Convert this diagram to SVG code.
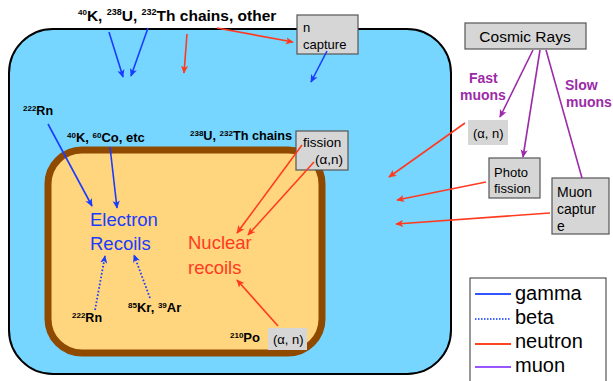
<svg xmlns="http://www.w3.org/2000/svg" width="613" height="381" viewBox="0 0 613 381">
<style>
text{font-family:"Liberation Sans",Arial,sans-serif;fill:#000}
.b{font-weight:bold}
.sup{font-size:8px}
.box{fill:#d6d6d6;stroke:#555;stroke-width:1.2}
.boxn{fill:#d6d6d6;stroke:none}
.g{stroke:#1a3cff;stroke-width:1.6;fill:none}
.bt{stroke:#1a3cff;stroke-width:1.8;fill:none;stroke-dasharray:1.6 2}
.n{stroke:#ff3b1f;stroke-width:1.6;fill:none}
.m{stroke:#9c2aa8;stroke-width:1.6;fill:none}
.pm{fill:#9c2aa8;font-weight:bold;font-size:14px}
.t13{font-size:13px}
.lg{font-size:20px}
</style>
<defs>
<marker id="ab" viewBox="0 0 10 10" refX="9" refY="5" markerWidth="8" markerHeight="8" markerUnits="userSpaceOnUse" orient="auto"><path d="M0,0.5 L10,5 L0,9.5 L2.5,5 Z" fill="#1a3cff"/></marker>
<marker id="ar" viewBox="0 0 10 10" refX="9" refY="5" markerWidth="8" markerHeight="8" markerUnits="userSpaceOnUse" orient="auto"><path d="M0,0.5 L10,5 L0,9.5 L2.5,5 Z" fill="#ff3b1f"/></marker>
<marker id="am" viewBox="0 0 10 10" refX="9" refY="5" markerWidth="8" markerHeight="8" markerUnits="userSpaceOnUse" orient="auto"><path d="M0,0.5 L10,5 L0,9.5 L2.5,5 Z" fill="#9c2aa8"/></marker>
</defs>

<g id="outer"><rect x="9" y="29" width="442" height="345" rx="44" ry="44" fill="#76d6ff" stroke="#000" stroke-width="2"/></g>
<g id="inner"><rect x="48" y="150" width="274" height="203" rx="34" ry="34" fill="#ffd57e" stroke="#8f4a00" stroke-width="7"/></g>

<g id="title"><text x="78" y="21" class="b" font-size="15.5"><tspan class="sup" font-size="9" dy="-6">40</tspan><tspan dy="6">K, </tspan><tspan font-size="9" dy="-6">238</tspan><tspan dy="6">U, </tspan><tspan font-size="9" dy="-6">232</tspan><tspan dy="6">Th chains, other</tspan></text></g>

<g id="ncapture"><rect class="box" x="297" y="15" width="61" height="39"/><text class="t13" x="303" y="32">n</text><text class="t13" x="303" y="49">capture</text></g>

<g id="cosmic"><rect class="box" x="465" y="23" width="121" height="26"/><text x="525" y="42" font-size="15.5" text-anchor="middle">Cosmic Rays</text></g>
<g id="fastmuons"><text class="pm" x="469" y="83">Fast</text><text class="pm" x="460" y="100">muons</text></g>
<g id="slowmuons"><text class="pm" x="565" y="90">Slow</text><text class="pm" x="566" y="107">muons</text></g>

<g id="an-right"><rect class="boxn" x="468" y="120" width="40" height="25"/><text class="t13" x="473" y="138">(α, n)</text></g>
<g id="photofission"><rect class="box" x="489" y="158" width="51" height="40"/><text class="t13" x="494" y="177">Photo</text><text class="t13" x="494" y="193">fission</text></g>
<g id="muoncapture"><rect class="box" x="552" y="178" width="57" height="56"/><text x="557" y="197" font-size="14">Muon</text><text x="557" y="214" font-size="14">captur</text><text x="557" y="231" font-size="14">e</text></g>

<g id="fission"><rect class="box" x="296" y="131" width="52" height="39"/><text x="303" y="147" font-size="13.5">fission</text><text x="315" y="164" font-size="13.5">(α,n)</text></g>

<g id="labels">
<text class="b" x="23" y="115" font-size="12.5"><tspan class="sup" dy="-4.5">222</tspan><tspan dy="4.5">Rn</tspan></text>
<text class="b" x="67" y="142" font-size="13"><tspan class="sup" dy="-4.5">40</tspan><tspan dy="4.5">K, </tspan><tspan class="sup" dy="-4.5">60</tspan><tspan dy="4.5">Co, etc</tspan></text>
<text class="b" x="190" y="140" font-size="12.7"><tspan class="sup" dy="-4.5">238</tspan><tspan dy="4.5">U, </tspan><tspan class="sup" dy="-4.5">232</tspan><tspan dy="4.5">Th chains</tspan></text>
<text class="b" x="72" y="322" font-size="12.5"><tspan class="sup" dy="-4.5">222</tspan><tspan dy="4.5">Rn</tspan></text>
<text class="b" x="128" y="312" font-size="13"><tspan class="sup" dy="-4.5">85</tspan><tspan dy="4.5">Kr, </tspan><tspan class="sup" dy="-4.5">39</tspan><tspan dy="4.5">Ar</tspan></text>
<text class="b" x="230" y="342" font-size="13"><tspan class="sup" dy="-4.5">210</tspan><tspan dy="4.5">Po</tspan></text>
</g>

<g id="electron"><text x="90" y="226" font-size="18.5" fill="#1a3cff" style="fill:#1a3cff">Electron</text><text x="90" y="250" font-size="18.5" style="fill:#1a3cff">Recoils</text></g>
<g id="nuclear"><text x="188" y="249" font-size="18.5" style="fill:#ff3b1f">Nuclear</text><text x="188" y="274" font-size="18.5" style="fill:#ff3b1f">recoils</text></g>

<g id="an-bottom"><rect class="boxn" x="268" y="328" width="39" height="22"/><text class="t13" x="273" y="344">(α, n)</text></g>

<g id="connectors">
<line class="g" x1="109" y1="32" x2="123" y2="77" marker-end="url(#ab)"/>
<line class="g" x1="148" y1="28" x2="131" y2="76" marker-end="url(#ab)"/>
<line class="n" x1="187" y1="34" x2="184" y2="73" marker-end="url(#ar)"/>
<line class="n" x1="217" y1="28" x2="293" y2="42" marker-end="url(#ar)"/>
<line class="g" x1="327" y1="51" x2="311" y2="82" marker-end="url(#ab)"/>
<line class="g" x1="48" y1="124" x2="92" y2="206" marker-end="url(#ab)"/>
<line class="g" x1="110" y1="147" x2="117" y2="208" marker-end="url(#ab)"/>
<line class="bt" x1="95" y1="310" x2="105" y2="256" marker-end="url(#ab)"/>
<line class="bt" x1="150" y1="298" x2="134" y2="255" marker-end="url(#ab)"/>
<line class="n" x1="302" y1="145" x2="237" y2="233" marker-end="url(#ar)"/>
<line class="n" x1="314" y1="162" x2="248" y2="235" marker-end="url(#ar)"/>
<line class="n" x1="278" y1="326" x2="237" y2="280" marker-end="url(#ar)"/>
<line class="n" x1="465" y1="123" x2="389" y2="177" marker-end="url(#ar)"/>
<line class="n" x1="486" y1="182" x2="397" y2="200" marker-end="url(#ar)"/>
<line class="n" x1="550" y1="213" x2="396" y2="224" marker-end="url(#ar)"/>
<line class="m" x1="533" y1="50" x2="500" y2="117" marker-end="url(#am)"/>
<line class="m" x1="540" y1="50" x2="523" y2="157" marker-end="url(#am)"/>
<line class="m" x1="546" y1="50" x2="582" y2="178"/>
</g>

<g id="legend">
<rect x="470" y="278" width="136" height="110" fill="#fff" stroke="#333" stroke-width="1"/>
<line x1="475" y1="294" x2="511" y2="294" stroke="#3355ff" stroke-width="2"/>
<text class="lg" x="515" y="300">gamma</text>
<line x1="475" y1="319" x2="511" y2="319" stroke="#4466ff" stroke-width="2" stroke-dasharray="1.5 1.5"/>
<text class="lg" x="515" y="324">beta</text>
<line x1="475" y1="344" x2="511" y2="344" stroke="#ff4422" stroke-width="2"/>
<text class="lg" x="515" y="348">neutron</text>
<line x1="475" y1="367" x2="511" y2="367" stroke="#9955ff" stroke-width="2"/>
<text class="lg" x="515" y="372">muon</text>
</g>
</svg>
